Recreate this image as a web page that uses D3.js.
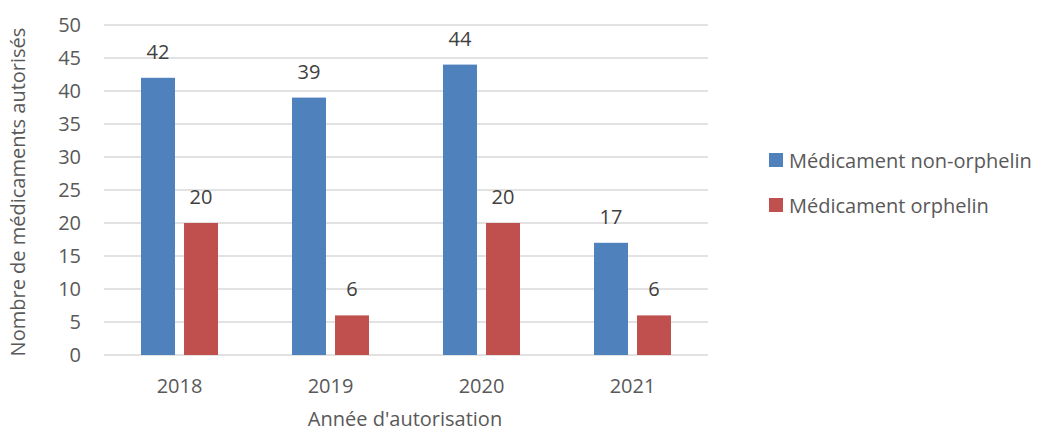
<!DOCTYPE html>
<meta charset="utf-8">
<style>
body{margin:0;background:#fff;}
text{font-family:"Open Sans","Noto Sans",sans-serif;fill:#595959;font-size:20px;}
.grid line{stroke:#d9d9d9;stroke-width:1.5px;}
.lbl{fill:#404040;text-anchor:middle;}
</style>
<body>
<script src="https://cdn.jsdelivr.net/npm/d3@7"></script>
<script>
// donnees
var years = ["2018","2019","2020","2021"];
var series = ["Médicament non-orphelin","Médicament orphelin"];
var nonOrphelin = [42,39,44,17];
var orphelin = [20,6,20,6];
var yTicks = [0,5,10,15,20,25,30,35,40,45,50];
var colors = ["#4f81bd","#c0504d"];

var W = 1045, H = 433;
var m = {left:104, right:708, top:25, bottom:355};

var svg = d3.select("body").append("svg").attr("width",W).attr("height",H);

var x = d3.scaleBand().domain(years).range([m.left,m.right]);
var y = d3.scaleLinear().domain([0,50]).range([m.bottom,m.top]);
var x1 = d3.scaleBand().domain(series).range([-38.5,38.5]).paddingInner(0.21);

// grille
svg.append("g").attr("class","grid")
  .selectAll("line").data(yTicks).enter().append("line")
  .attr("x1",m.left).attr("x2",m.right)
  .attr("y1",d=>y(d)).attr("y2",d=>y(d));

// axe y
svg.append("g").selectAll("text").data(yTicks).enter().append("text")
  .attr("x",m.left-23).attr("y",d=>y(d)+7)
  .attr("text-anchor","end")
  .text(d=>d);

// axe x
svg.append("g").selectAll("text").data(years).enter().append("text")
  .attr("x",d=>x(d)+x.bandwidth()/2).attr("y",393)
  .attr("text-anchor","middle")
  .text(d=>d);

var rows = years.map(function(yr,i){
  return [{s:series[0],v:nonOrphelin[i],c:colors[0]},{s:series[1],v:orphelin[i],c:colors[1]}];
});

var grp = svg.selectAll(".yr").data(rows).enter().append("g")
  .attr("transform",(d,i)=>"translate("+(x(years[i])+x.bandwidth()/2)+",0)");

grp.selectAll("rect").data(d=>d).enter().append("rect")
  .attr("x",d=>x1(d.s)).attr("width",x1.bandwidth())
  .attr("y",d=>y(d.v)).attr("height",d=>y(0)-y(d.v))
  .attr("fill",d=>d.c);

grp.selectAll(".lbl").data(d=>d).enter().append("text").attr("class","lbl")
  .attr("x",d=>x1(d.s)+x1.bandwidth()/2).attr("y",d=>y(d.v)-19)
  .text(d=>d.v);

// titres
svg.append("text").attr("x",405).attr("y",426)
  .attr("text-anchor","middle")
  .text("Année d'autorisation");
svg.append("text").attr("transform","translate(25,192) rotate(-90)")
  .attr("text-anchor","middle")
  .text("Nombre de médicaments autorisés");

// legende
var leg = svg.selectAll(".leg").data(series).enter().append("g")
  .attr("transform",(d,i)=>"translate(769,"+(153+i*45)+")");
leg.append("rect").attr("width",14).attr("height",14).attr("fill",(d,i)=>colors[i]);
leg.append("text").attr("x",20).attr("y",15).text(d=>d);
</script>
</body>
